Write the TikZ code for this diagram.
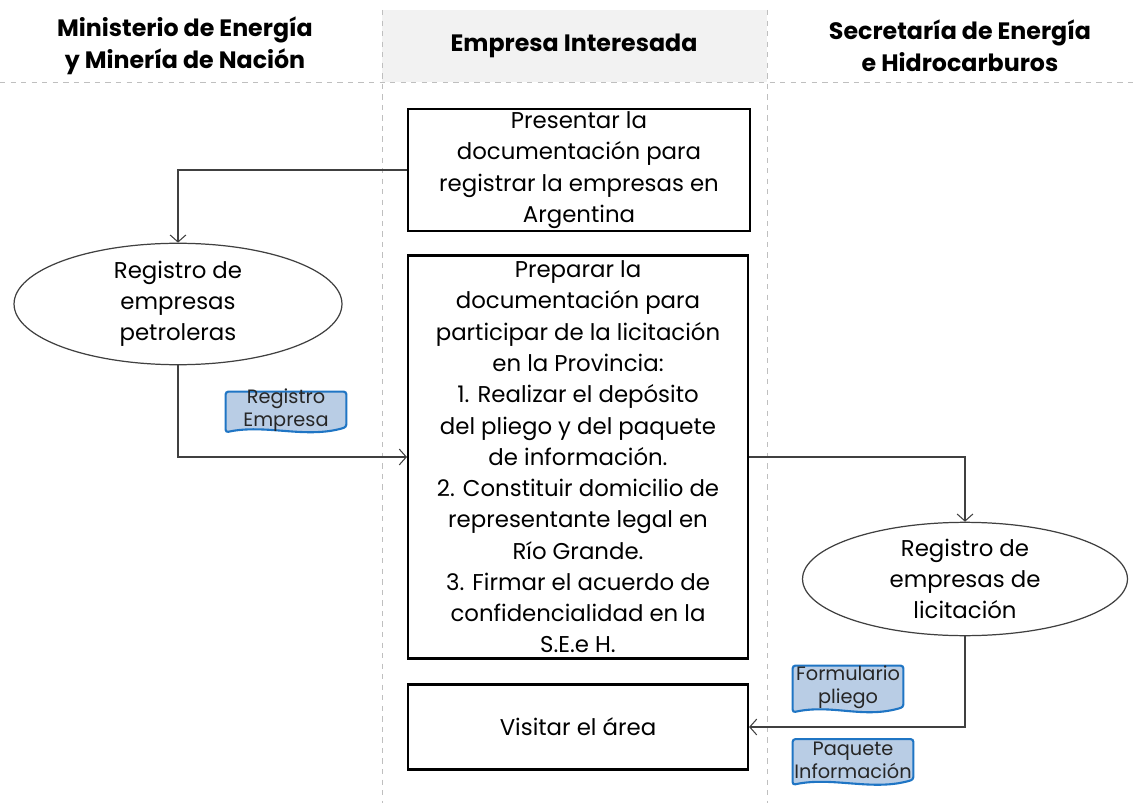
\documentclass[tikz,border=0pt]{standalone}
\usepackage{fontspec}
\setmainfont{Poppins}
\usepackage{tikz}
\usetikzlibrary{shapes.geometric,arrows.meta}

\definecolor{docfill}{HTML}{B9CDE5}
\definecolor{docline}{HTML}{1F75C4}
\definecolor{lanegray}{HTML}{F2F2F2}
\definecolor{dashgray}{HTML}{BFBFBF}
\definecolor{linkgray}{HTML}{404040}

\begin{document}
\begin{tikzpicture}[x=0.02cm,y=-0.02cm,>={Straight Barb[length=4pt,width=9pt]},
        task/.style={draw,line width=1.2pt,inner sep=0pt,align=center,
          font=\fontsize{13}{17.8}\selectfont},
        regbox/.style={draw=linkgray,ellipse,line width=0.7pt,inner sep=0pt,
          align=center,font=\fontsize{13}{17.8}\selectfont},
        docnote/.style={inner sep=0pt,align=center,text=black!85,
          font=\fontsize{11}{13.5}\selectfont},
        link/.style={->,draw=linkgray,line width=0.6pt},
        lane/.style={draw=dashgray,dashed,line width=0.5pt},
        header/.style={align=center,font=\fontsize{13.5}{18}\selectfont\bfseries}]

  \useasboundingbox (0,0) rectangle (1138,803);

  % lanes
  \fill[lanegray] (382,10) rectangle (767,82);
  \draw[lane] (0,82) -- (1138,82);
  \draw[lane] (382,10) -- (382,803);
  \draw[lane] (767,10) -- (767,803);

  \node[header] (Ministerio) at (185,46) {Ministerio de Energía\\y Minería de Nación};
  \node[header] (Empresa) at (574,46) {Empresa Interesada};
  \node[header] (Secretaria) at (960,46) {Secretaría de Energía\\e Hidrocarburos};

  % tasks
  \node[task,minimum width=6.84cm,minimum height=2.44cm] (Presentar) at (579,170)
    {Presentar la\\documentación para\\registrar la empresas en\\Argentina};
  \node[task,minimum width=6.8cm,minimum height=8.06cm] (Preparar) at (578,457)
    {Preparar la\\documentación para\\participar de la licitación\\en la Provincia:\\
     1. Realizar el depósito\\del pliego y del paquete\\de información.\\
     2. Constituir domicilio de\\representante legal en\\Río Grande.\\
     3. Firmar el acuerdo de\\confidencialidad en la\\S.E.e H.};
  \node[task,minimum width=6.8cm,minimum height=1.7cm] (Visitar) at (578,727) {Visitar el área};

  \node[regbox,minimum width=6.56cm,minimum height=2.16cm] (Petroleras) at (178,304)
    {Registro de\\empresas\\petroleras};
  \node[regbox,minimum width=6.5cm,minimum height=2.26cm] (Licitacion) at (965,579)
    {Registro de\\empresas de\\licitación};

  % documents
  \node[docnote,minimum width=2.4cm,minimum height=0.8cm] (RegEmpresa) at (286,412) {};
  \node[docnote,minimum width=2.2cm,minimum height=0.92cm] (FormPliego) at (848,689) {};
  \node[docnote,minimum width=2.4cm,minimum height=0.9cm] (PaqInfo) at (853,762) {};
  \foreach \d in {RegEmpresa,FormPliego,PaqInfo}
    \draw[docline,fill=docfill,line width=1.2pt,rounded corners=1.5pt]
      (\d.north west) -- (\d.north east) -- ([yshift=3pt]\d.south east)
      .. controls ([xshift=-0.8cm,yshift=-4pt]\d.south east)
             and ([xshift=0.8cm,yshift=5pt]\d.south west) .. (\d.south west) -- cycle;
  \node[docnote] at ([yshift=1pt]RegEmpresa) {Registro\\Empresa};
  \node[docnote] at ([yshift=1pt]FormPliego) {Formulario\\pliego};
  \node[docnote] at ([yshift=1pt]PaqInfo) {Paquete\\Información};

  % flow
  \draw[link] (Presentar.west) -| (Petroleras.north);
  \draw[link] (Petroleras.south) |- (Preparar.west);
  \draw[link] (Preparar.east) -| (Licitacion.north);
  \draw[link] (Licitacion.south) |- (Visitar.east);
\end{tikzpicture}
\end{document}
